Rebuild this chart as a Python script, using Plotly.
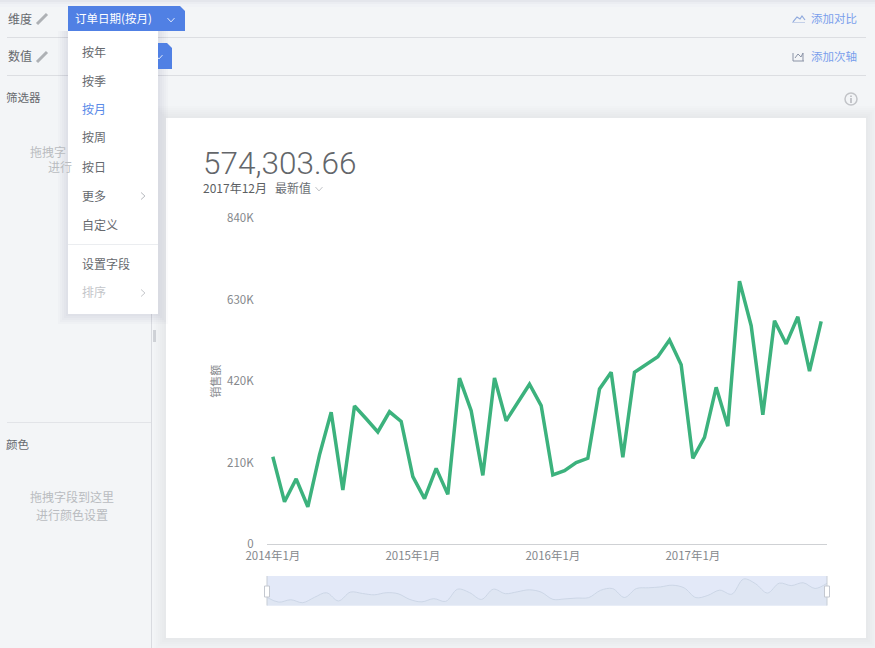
import plotly.graph_objects as go

W, H = 875, 648

# monthly sales, 2014-01 .. 2017-12
years = [2014, 2015, 2016, 2017]
months = [f"{y}年{m}月" for y in years for m in range(1, 13)]
sales = [
    225000, 109000, 168000, 96000, 230000, 340000, 139000, 356000, 323000, 289000, 341000, 316000,
    174000, 117000, 195000, 128000, 428000, 344000, 177000, 428000, 318000, 363000, 412000, 357000,
    178000, 189000, 210000, 221000, 400000, 443000, 224000, 443000, 462000, 483000, 526000, 462000,
    221000, 275000, 404000, 304000, 678000, 563000, 333000, 576000, 516000, 586000, 446000, 574303.66,
]
y_ticks = [0, 210000, 420000, 630000, 840000]
y_labels = ["0", "210K", "420K", "630K", "840K"]
x_ticks = ["2014年1月", "2015年1月", "2016年1月", "2017年1月"]

FONT = "Noto Sans CJK SC"
BG = "#f3f5f7"
BLUE = "#5080e4"
LINK = "#7a9fec"
MENU_TEXT = "#66696e"
HINT = "#b9bcc0"
AXIS_TEXT = "#85888c"


def px(x):
    return x / W


def py(y):
    return 1 - y / H


def rect(x0, y0, x1, y1, color, layer="below", opacity=1):
    return dict(type="rect", xref="paper", yref="paper", x0=px(x0), x1=px(x1), y0=py(y0), y1=py(y1),
                fillcolor=color, line_width=0, layer=layer, opacity=opacity)


def poly(points, color=None, fill=None, width=1, close=False):
    d = "M " + " L ".join(f"{px(x):.5f} {py(y):.5f}" for x, y in points)
    if close:
        d += " Z"
    return dict(type="path", xref="paper", yref="paper", path=d, layer="above",
                line=dict(color=color or "rgba(0,0,0,0)", width=width), fillcolor=fill)


def chevron_down(x, y, color, s=3.5):
    return poly([(x - s, y - s * 0.55), (x, y + s * 0.55), (x + s, y - s * 0.55)], color, width=1)


def chevron_right(x, y, color, s=3.5):
    return poly([(x - s * 0.55, y - s), (x + s * 0.55, y), (x - s * 0.55, y + s)], color, width=1)


def pencil(x, y):
    return poly([(x - 5, y + 5), (x + 5, y - 5)], "#aeb1b5", width=3)


def shadow(x0, y0, x1, y1, size, alpha):
    # stacked translucent rects stand in for a box-shadow blur
    return [rect(x0 - i, y0 - i, x1 + i, y1 + i, f"rgba(60,70,100,{alpha})") for i in range(size, 0, -2)]


shapes = [rect(0, 0, W, 2, "#e4e6ec"), rect(0, 2, W, 4, "#ebedf2"), rect(0, 4, W, 7, "#f0f2f6")]

# panel separators
for y in [37, 75]:
    shapes.append(rect(7, y, 866, y + 1, "#dcdee2"))
shapes.append(rect(7, 422, 151, 423, "#e2e4e8"))
shapes.append(rect(151, 76, 152, H, "#d9dbe0"))
shapes.append(rect(153, 330, 156, 342, "#d0d3d8"))

# card
shapes += shadow(166, 118, 866, 638, 12, 0.012)
shapes.append(rect(166, 118, 866, 638, "#ffffff"))

# slider background
shapes.append(rect(267, 576, 827, 605.5, "#e3e9f8"))

# field pills
shapes.append(poly([(68, 6), (180, 6), (185, 11), (185, 31), (68, 31)], fill=BLUE, close=True))
shapes.append(chevron_down(171, 20, "#dfe8fb"))

# dropdown menu
for i in range(10, 0, -2):
    shapes.append(dict(rect(68 - i, 31, 158 + i, 314 + i, "rgba(50,60,90,0.018)"), layer="above"))
shapes.append(poly([(158, 43), (167, 43), (172, 48), (172, 69), (158, 69)], fill=BLUE, close=True))
shapes.append(chevron_down(159, 57, "#dfe8fb"))
shapes.append(rect(68, 31, 158, 314, "#ffffff", layer="above"))
shapes.append(rect(68, 244, 158, 245, "#ebedf0", layer="above"))
shapes.append(chevron_right(143, 196, "#b5b8bd"))
shapes.append(chevron_right(143, 293, "#c4c6ca"))

# small icons
shapes += [pencil(42, 19), pencil(42, 57)]
shapes.append(poly([(793, 22), (797, 17), (800, 19), (802, 16), (805, 20)], "#8fa9dd", width=1.2))
shapes.append(rect(792, 22, 805, 23, "#c4d0e8", layer="above"))
shapes.append(poly([(793, 53), (793, 61), (804, 61)], "#8a93a6", width=1))
shapes.append(poly([(795, 58), (798, 54), (801, 57), (803, 53), (803, 61)], "#8a93a6", width=1))
shapes.append(dict(type="circle", xref="paper", yref="paper", x0=px(845), x1=px(857), y0=py(105), y1=py(93),
                   line=dict(color="#c2c4c8", width=1.5), layer="above"))
shapes.append(rect(850.2, 98, 851.8, 103, "#b8babf", layer="above"))
shapes.append(rect(850.2, 95.5, 851.8, 97, "#b8babf", layer="above"))

# slider handles
for x in [267, 827]:
    shapes.append(rect(x - 0.5, 576, x + 0.5, 605.5, "#c8cdd6", layer="above"))
    shapes.append(dict(type="rect", xref="paper", yref="paper", x0=px(x - 2.5), x1=px(x + 2.5), y0=py(597), y1=py(586),
                       fillcolor="#ffffff", line=dict(color="#c4c8d0", width=1), layer="above"))

texts = [
    ("维度", 8, 19, 12, MENU_TEXT),
    ("数值", 8, 57, 12, MENU_TEXT),
    ("订单日期(按月)", 75, 19, 11.5, "#ffffff"),
    ("按年", 82, 52, 12, MENU_TEXT),
    ("按季", 82, 81, 12, MENU_TEXT),
    ("按月", 82, 110, 12, "#5a8ae8"),
    ("按周", 82, 138, 12, MENU_TEXT),
    ("按日", 82, 167, 12, MENU_TEXT),
    ("更多", 82, 196, 12, MENU_TEXT),
    ("自定义", 82, 225, 12, MENU_TEXT),
    ("设置字段", 82, 264, 12, MENU_TEXT),
    ("排序", 82, 292, 12, "#c4c6ca"),
    ("筛选器", 6, 98, 11.5, MENU_TEXT),
    ("拖拽字", 30, 152, 12, HINT),
    ("进行", 48, 168, 12, HINT),
    ("颜色", 6, 445, 11.5, MENU_TEXT),
    ("拖拽字段到这里", 30, 497, 12, HINT),
    ("进行颜色设置", 36, 515, 12, HINT),
    ("添加对比", 811, 19, 11.5, LINK),
    ("添加次轴", 811, 57, 11.5, LINK),
    ("2017年12月", 203, 188, 12, "#5c5f63"),
    ("最新值", 275, 188, 12, "#6c6f74"),
]
# annotations carry about 2px of padding, so pull them back by that much
annotations = [
    dict(text=t, x=px(x - 2), y=py(y - 1), xref="paper", yref="paper", xanchor="left", yanchor="middle",
         showarrow=False, font=dict(family=FONT, size=s, color=c))
    for t, x, y, s, c in texts
]
annotations.append(dict(text="574,303.66", x=px(201), y=py(163), xref="paper", yref="paper", xanchor="left",
                        yanchor="middle", showarrow=False,
                        font=dict(family="Roboto", size=31.5, color="#63666a", weight=300)))
shapes.append(chevron_down(319, 189, "#c0c2c6", s=3.5))

fig = go.Figure()
fig.add_trace(go.Scatter(x=months, y=sales, mode="lines", line=dict(color="#3cb27d", width=3.5),
                         hoverinfo="skip", showlegend=False))
fig.add_trace(go.Scatter(x=months, y=sales, mode="lines", xaxis="x2", yaxis="y2",
                         line=dict(color="#ccd6e6", width=1, shape="spline", smoothing=1),
                         fill="tozeroy", fillcolor="#dfe6f3", hoverinfo="skip", showlegend=False))

fig.update_layout(
    width=W, height=H, autosize=False,
    margin=dict(l=0, r=0, t=0, b=0, autoexpand=False),
    paper_bgcolor=BG, plot_bgcolor="rgba(0,0,0,0)",
    font=dict(family=FONT),
    shapes=shapes, annotations=annotations,
    xaxis=dict(domain=[px(267), px(827)], anchor="y", type="category", categoryorder="array", categoryarray=months,
               range=[-0.5, 47.5], tickmode="array", tickvals=x_ticks, ticktext=x_ticks,
               tickfont=dict(size=11.5, color=AXIS_TEXT, family=FONT), showgrid=False, zeroline=False,
               showline=True, linecolor="#cfd1d4", linewidth=1, ticks="outside", ticklen=1,
               tickcolor="rgba(0,0,0,0)"),
    yaxis=dict(domain=[py(544), py(218.3)], anchor="x", range=[0, 840000], tickmode="array", tickvals=y_ticks,
               ticktext=y_labels, tickfont=dict(size=11.5, color=AXIS_TEXT, family=FONT), showgrid=False,
               zeroline=False, showline=False, ticks="outside", ticklen=10, tickcolor="rgba(0,0,0,0)",
               title=dict(text="销售额", font=dict(size=11, color=AXIS_TEXT, family=FONT), standoff=4)),
    xaxis2=dict(domain=[px(267), px(827)], anchor="y2", type="category", categoryorder="array", categoryarray=months,
                range=[0, 47], visible=False),
    yaxis2=dict(domain=[py(605.5), py(576)], anchor="x2", range=[27000, 752000], visible=False),
)

fig.write_html("out.html", post_script="document.body.style.margin='0';document.body.style.overflow='hidden';",
               config={"displayModeBar": False})
